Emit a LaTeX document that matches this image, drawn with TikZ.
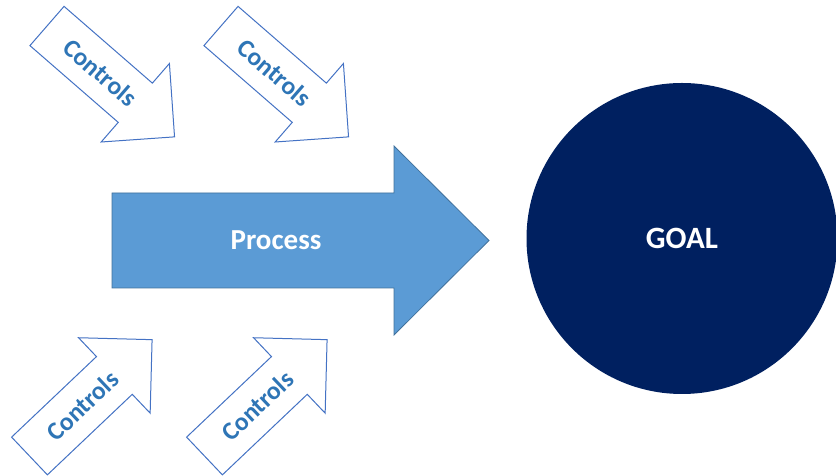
\documentclass[tikz,border=0pt]{standalone}
\usepackage{fontspec}
\setmainfont{Carlito}
\definecolor{procblue}{HTML}{5B9BD5}
\definecolor{procedge}{HTML}{41719C}
\definecolor{goalnavy}{HTML}{002060}
\definecolor{ctrledge}{HTML}{4472C4}
\definecolor{ctrlink}{HTML}{2E75B6}
\tikzset{
  ctrlarrow/.style={draw=ctrledge,fill=white,line width=1pt,line join=miter},
  ctrllabel/.style={text=ctrlink,font=\fontsize{25.5}{30}\selectfont\bfseries,inner sep=0pt},
  mainlabel/.style={text=white,font=\fontsize{29}{34}\selectfont\bfseries,inner sep=0pt},
}
\begin{document}
\begin{tikzpicture}[x=1pt,y=1pt]
  \useasboundingbox (0,0) rectangle (836,476);
  % controls, top row
  \begin{scope}[shift={(47,450)},rotate=-41]
    \draw[ctrlarrow] (0,26) -- (117,26) -- (117,52) -- (169,0) -- (117,-52) -- (117,-26) -- (0,-26) -- cycle;
    \node[ctrllabel,rotate=-41] (ctrlA) at (71,0) {Controls};
  \end{scope}
  \begin{scope}[shift={(221,450)},rotate=-41]
    \draw[ctrlarrow] (0,26) -- (117,26) -- (117,52) -- (169,0) -- (117,-52) -- (117,-26) -- (0,-26) -- cycle;
    \node[ctrllabel,rotate=-41] (ctrlB) at (71,0) {Controls};
  \end{scope}
  % controls, bottom row
  \begin{scope}[shift={(29.5,20)},rotate=43.5]
    \draw[ctrlarrow] (0,26) -- (117,26) -- (117,52) -- (169,0) -- (117,-52) -- (117,-26) -- (0,-26) -- cycle;
    \node[ctrllabel,rotate=43.5] (ctrlC) at (73,0) {Controls};
  \end{scope}
  \begin{scope}[shift={(204.5,20)},rotate=43.5]
    \draw[ctrlarrow] (0,26) -- (117,26) -- (117,52) -- (169,0) -- (117,-52) -- (117,-26) -- (0,-26) -- cycle;
    \node[ctrllabel,rotate=43.5] (ctrlD) at (73,0) {Controls};
  \end{scope}
  % process arrow
  \draw[fill=procblue,draw=procedge,line width=0.8pt] (112,188) -- (394,188) -- (394,141) -- (489,235.5) -- (394,330) -- (394,283) -- (112,283) -- cycle;
  \node[mainlabel] (process) at (276,236) {Process};
  % goal
  \node[circle,fill=goalnavy,minimum size=311pt,inner sep=0pt,text=white,font=\fontsize{31}{36}\selectfont\bfseries] (goal) at (682,237.5) {GOAL};
\end{tikzpicture}
\end{document}
